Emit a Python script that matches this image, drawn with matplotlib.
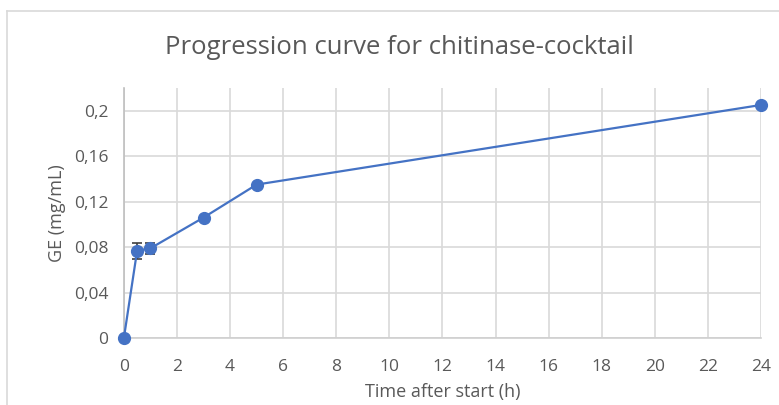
import numpy as np
import matplotlib
matplotlib.use("Agg")
from matplotlib import pyplot as plt
from matplotlib.ticker import FuncFormatter, MultipleLocator
from matplotlib.lines import Line2D

# progression data
time_h = [0, 0.5, 1, 3, 5, 24]
ge_mg_ml = [0.0, 0.077, 0.079, 0.106, 0.135, 0.205]
ge_err = [0.0, 0.007, 0.005, 0.0, 0.0, 0.0]

BLUE = "#4472C4"
TXT = "#595959"
GRID = "#d9d9d9"

plt.rcParams['font.family'] = ['Open Sans', 'DejaVu Sans']

fig = plt.figure(figsize=(7.79, 4.05), dpi=100)
ax = fig.add_axes([0.159, 0.165, 0.818, 0.618])

lines = ax.errorbar(time_h, ge_mg_ml, yerr=ge_err, color=BLUE, lw=1.6,
                    marker='o', markersize=8.5, ecolor="#404040", elinewidth=1.2,
                    capsize=3.5, capthick=1.2, zorder=3)
# keep end markers whole at the axes edges
lines.lines[0].set_clip_on(False)

ax.set_xlim(0, 24)
ax.set_ylim(0, 0.22)
ax.xaxis.set_major_locator(MultipleLocator(2))
ax.set_yticks([0, 0.04, 0.08, 0.12, 0.16, 0.2])
ax.yaxis.set_major_formatter(FuncFormatter(lambda v, p: ('%g' % round(v, 2)).replace('.', ',')))

ax.grid(True, color=GRID, lw=1.2)
ax.set_axisbelow(True)
for s in ['top', 'right']:
    ax.spines[s].set_visible(False)
ax.spines['bottom'].set_color("#cfcfcf")
ax.spines['bottom'].set_linewidth(1.2)
ax.spines['left'].set_color("#bfbfbf")
ax.spines['left'].set_linewidth(1.2)
ax.tick_params(length=0, labelsize=12.5, colors=TXT)
ax.tick_params(axis='y', pad=11)
ax.tick_params(axis='x', pad=15)

ax.set_xlabel("Time after start (h)", fontsize=13, color=TXT, labelpad=6)
ax.set_ylabel("GE (mg/mL)", fontsize=13, color=TXT, labelpad=6)
fig.text(0.513, 0.882, "Progression curve for chitinase-cocktail",
         ha='center', va='center', fontsize=18.5, color=TXT)

# chart frame edges
fig.add_artist(Line2D([0.009, 0.009], [0, 0.973], color=GRID, lw=1.2))
fig.add_artist(Line2D([0.009, 1], [0.973, 0.973], color=GRID, lw=1.2))

fig.savefig("out.png", dpi=100)
